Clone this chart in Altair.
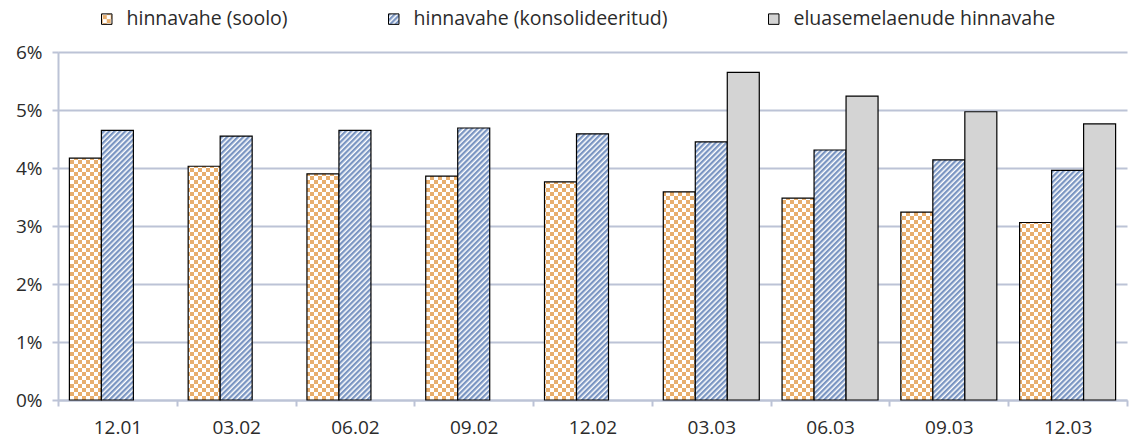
import altair as alt
import pandas as pd
import altair.utils.html as _h

# ---- data ----
periods = ["12.01", "03.02", "06.02", "09.02", "12.02", "03.03", "06.03", "09.03", "12.03"]
series = ["hinnavahe (soolo)", "hinnavahe (konsolideeritud)", "eluasemelaenude hinnavahe"]
soolo = [4.17, 4.03, 3.90, 3.86, 3.76, 3.59, 3.48, 3.24, 3.06]
konsolideeritud = [4.65, 4.55, 4.65, 4.69, 4.59, 4.45, 4.31, 4.14, 3.96]
eluase = [None, None, None, None, None, 5.65, 5.24, 4.97, 4.76]
y_ticks = [0, 0.01, 0.02, 0.03, 0.04, 0.05, 0.06]

rows = []
for s, vals in zip(series, [soolo, konsolideeritud, eluase]):
    for p, v in zip(periods, vals):
        if v is not None:
            rows.append({"period": p, "series": s, "value": v / 100})
df = pd.DataFrame(rows)

# pattern fills (SVG paint servers defined in the page)
fills = ["url(#chk)", "url(#stripe)", "#D4D4D4"]
DEFS = (
    '<svg width="0" height="0" style="position:absolute;width:0;height:0;overflow:hidden" aria-hidden="true">'
    '<defs>'
    '<pattern id="chk" patternUnits="userSpaceOnUse" width="8" height="8">'
    '<rect width="8" height="8" fill="#ffffff"/>'
    '<rect width="4" height="4" fill="#E8AE6D"/>'
    '<rect x="4" y="4" width="4" height="4" fill="#E8AE6D"/>'
    '</pattern>'
    '<pattern id="stripe" patternUnits="userSpaceOnUse" width="3.8" height="3.8" patternTransform="rotate(45)">'
    '<rect width="3.8" height="3.8" fill="#ffffff"/>'
    '<rect width="2.3" height="3.8" fill="#7A95C2"/>'
    '</pattern>'
    '</defs></svg>'
)

_base = _h.TEMPLATES["standard"]


class _PatternTemplate:
    def render(self, **kw):
        html = _base.render(**kw)
        return html.replace('<div id="', DEFS + '<div id="', 1)


_h.TEMPLATES["standard"] = _PatternTemplate()

FONT = "Open Sans"
GRID = "#BCC3D6"
TXT = "#2b2b2b"

chart = (
    alt.Chart(df)
    .mark_bar(stroke="black", strokeWidth=1.2)
    .encode(
        x=alt.X(
            "period:N",
            sort=periods,
            scale=alt.Scale(paddingInner=0, paddingOuter=0),
            axis=alt.Axis(
                title=None,
                labelAngle=0,
                tickBand="extent",
                tickSize=6,
                labelPadding=12,
                grid=False,
            ),
        ),
        xOffset=alt.XOffset(
            "series:N", sort=series, scale=alt.Scale(domain=series, paddingInner=0, paddingOuter=0.356)
        ),
        y=alt.Y(
            "value:Q",
            scale=alt.Scale(domain=[0, 0.06], nice=False),
            axis=alt.Axis(
                title=None,
                values=y_ticks,
                format=".0%",
                tickSize=6,
                labelPadding=10,
                grid=True,
            ),
        ),
        fill=alt.Fill(
            "series:N",
            sort=series,
            scale=alt.Scale(domain=series, range=fills),
            legend=alt.Legend(
                title=None,
                orient="none",
                direction="horizontal",
                legendX=39,
                legendY=-43,
                symbolType="square",
                symbolSize=110,
                symbolStrokeColor="black",
                symbolStrokeWidth=1,
                symbolOpacity=1,
                labelFontSize=19.5,
                labelFont=FONT,
                labelColor=TXT,
                labelOffset=10,
                labelLimit=500,
                columnPadding=96,
            ),
        ),
    )
    .properties(
        width=1069,
        height=348,
        autosize=alt.AutoSizeParams(type="none"),
        padding={"left": 58, "top": 52, "right": 8, "bottom": 41},
    )
    .configure_view(stroke=None)
    .configure_axis(
        domainColor=GRID,
        domainWidth=2,
        gridColor=GRID,
        gridWidth=2,
        tickColor=GRID,
        tickWidth=2,
        labelFont=FONT,
        labelFontSize=19,
        labelColor=TXT,
    )
)

chart.save("out.html", embed_options={"renderer": "svg", "actions": False})
